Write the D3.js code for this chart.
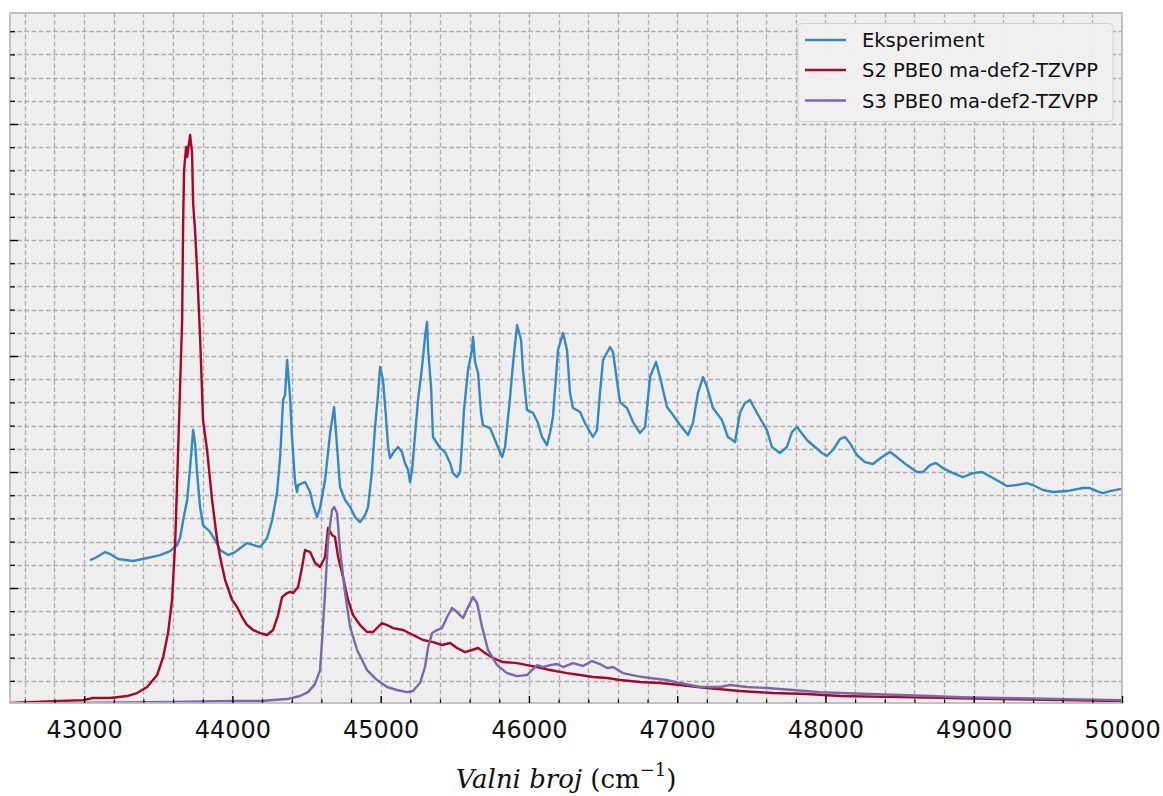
<!DOCTYPE html>
<html><head><meta charset="utf-8">
<script src="https://cdn.jsdelivr.net/npm/d3@7/dist/d3.min.js"></script>
<style>body{margin:0;background:#fff;} svg{display:block;}</style>
</head><body><svg id="c" width="1163" height="796"></svg>
<script>
// ---------- data ----------
const xTickValues = [43000, 44000, 45000, 46000, 47000, 48000, 49000, 50000];
const xTickLabels = ["43000", "44000", "45000", "46000", "47000", "48000", "49000", "50000"];
const seriesNames = ["Eksperiment", "S2 PBE0 ma-def2-TZVPP", "S3 PBE0 ma-def2-TZVPP"];

const expWave = [43040,43074,43142,43175,43229,43330,43425,43512,43580,43627,43647,43668,43695,43715,43728,43735,43748,43762,43782,43802,43850,43883,43917,43971,44018,44099,44187,44234,44268,44301,44322,44342,44355,44369,44389,44403,44423,44436,44443,44490,44524,44544,44571,44591,44625,44659,44686,44706,44726,44760,44794,44827,44861,44895,44915,44942,44962,44982,44996,45016,45036,45050,45063,45084,45117,45144,45164,45185,45198,45212,45225,45252,45279,45299,45313,45320,45340,45353,45401,45434,45468,45488,45515,45535,45549,45562,45589,45616,45623,45637,45657,45677,45690,45738,45771,45819,45839,45873,45893,45920,45947,45960,45987,46028,46061,46088,46122,46142,46162,46196,46230,46257,46277,46297,46345,46378,46432,46459,46479,46500,46547,46567,46614,46661,46702,46749,46783,46817,46857,46884,46931,46972,47019,47073,47106,47140,47174,47201,47241,47302,47342,47390,47423,47457,47491,47538,47605,47639,47693,47740,47774,47808,47875,47929,47976,48010,48050,48098,48131,48165,48212,48266,48320,48381,48435,48482,48549,48617,48657,48705,48745,48792,48860,48927,48995,49055,49130,49224,49291,49358,49399,49467,49534,49628,49736,49783,49831,49871,49918,49986,50000];
const expInt = [1.241,1.259,1.310,1.293,1.250,1.233,1.259,1.284,1.319,1.371,1.431,1.586,1.759,2.043,2.250,2.362,2.250,1.991,1.698,1.543,1.483,1.414,1.328,1.284,1.310,1.388,1.353,1.431,1.586,1.819,2.129,2.621,2.664,2.966,2.647,2.276,1.914,1.828,1.888,1.914,1.828,1.716,1.612,1.690,1.931,2.336,2.560,2.216,1.871,1.759,1.698,1.612,1.569,1.629,1.698,2.017,2.388,2.664,2.905,2.793,2.474,2.216,2.121,2.164,2.216,2.172,2.078,2.017,1.914,2.017,2.216,2.621,2.905,3.164,3.293,3.052,2.733,2.302,2.207,2.172,2.078,1.991,1.957,2.000,2.250,2.534,2.879,3.052,3.164,2.948,2.853,2.509,2.405,2.379,2.276,2.129,2.216,2.647,2.940,3.267,3.138,2.879,2.534,2.509,2.422,2.302,2.233,2.336,2.474,3.052,3.198,3.052,2.681,2.552,2.517,2.422,2.302,2.362,2.681,2.966,3.078,3.034,2.603,2.552,2.431,2.336,2.388,2.819,2.948,2.819,2.560,2.491,2.405,2.319,2.422,2.681,2.819,2.733,2.552,2.448,2.302,2.259,2.509,2.595,2.621,2.509,2.362,2.216,2.164,2.216,2.345,2.388,2.276,2.216,2.164,2.138,2.190,2.284,2.302,2.250,2.147,2.086,2.069,2.129,2.172,2.129,2.060,2.000,2.000,2.060,2.078,2.034,1.991,1.957,1.991,2.000,1.948,1.879,1.888,1.905,1.888,1.845,1.828,1.836,1.862,1.862,1.836,1.819,1.836,1.853,1.853];

const s2Wave = [42500,42838,42993,43061,43175,43290,43357,43425,43492,43533,43566,43593,43614,43627,43641,43661,43668,43674,43688,43695,43701,43715,43728,43735,43748,43762,43782,43802,43829,43863,43897,43917,43951,43998,44032,44065,44099,44140,44187,44234,44274,44308,44335,44369,44389,44410,44443,44470,44490,44524,44558,44591,44625,44645,44672,44692,44713,44746,44780,44814,44861,44908,44949,44982,45009,45043,45084,45151,45218,45286,45353,45414,45468,45515,45569,45616,45657,45704,45758,45825,45920,45987,46055,46142,46257,46345,46432,46527,46614,46749,46884,47019,47201,47423,47646,47875,48098,48502,49177,50000];
const s2Int = [0.010,0.026,0.034,0.052,0.052,0.069,0.095,0.147,0.250,0.405,0.612,0.897,1.388,1.905,2.474,3.310,4.172,4.603,4.802,4.716,4.776,4.905,4.750,4.319,4.086,3.741,3.164,2.448,2.190,1.759,1.414,1.267,1.069,0.897,0.836,0.750,0.681,0.638,0.612,0.595,0.638,0.767,0.922,0.957,0.966,0.957,1.009,1.181,1.328,1.310,1.216,1.181,1.267,1.517,1.457,1.440,1.267,1.095,0.897,0.767,0.681,0.621,0.621,0.664,0.698,0.681,0.655,0.638,0.595,0.552,0.534,0.509,0.526,0.483,0.448,0.466,0.483,0.440,0.397,0.362,0.353,0.336,0.319,0.293,0.267,0.250,0.233,0.224,0.207,0.190,0.181,0.164,0.138,0.112,0.095,0.086,0.069,0.060,0.043,0.026];

const s3Wave = [42500,43601,44005,44187,44369,44456,44510,44557,44591,44605,44625,44645,44672,44686,44706,44726,44760,44794,44841,44908,44976,45043,45110,45178,45218,45265,45299,45320,45347,45380,45414,45448,45481,45515,45556,45589,45623,45650,45684,45724,45785,45852,45920,45987,46021,46055,46095,46142,46189,46230,46297,46365,46425,46479,46527,46567,46634,46729,46817,46931,47019,47154,47289,47356,47471,47605,47780,47962,48098,48502,48705,48907,49177,50000];
const s3Int = [0.005,0.017,0.026,0.026,0.043,0.069,0.103,0.172,0.293,0.552,0.957,1.414,1.672,1.698,1.647,1.328,0.957,0.664,0.466,0.293,0.207,0.147,0.121,0.103,0.112,0.181,0.319,0.491,0.612,0.638,0.655,0.750,0.828,0.793,0.741,0.836,0.922,0.871,0.664,0.466,0.336,0.267,0.241,0.250,0.293,0.336,0.319,0.336,0.345,0.319,0.353,0.328,0.371,0.345,0.310,0.319,0.267,0.241,0.224,0.207,0.181,0.147,0.147,0.164,0.147,0.138,0.121,0.103,0.095,0.078,0.069,0.060,0.052,0.034];

const colors = ["#348ABD", "#A60628", "#7A68A6"];

// ---------- layout ----------
const L = 10, R = 1122, T = 13, B = 703;
const svg = d3.select("#c");
const x = d3.scaleLinear().domain([42500, 50000]).range([L, R]);
const y = d3.scaleLinear().domain([0.009, 5.957]).range([B, T]);

svg.append("rect").attr("x", L).attr("y", T).attr("width", R - L).attr("height", B - T).attr("fill", "#eeeeee");

// grid
const xGrid = d3.range(42600, 50000, 200);
const yGrid = d3.range(1, 30).map(i => i * 0.2);
const g = svg.append("g").attr("stroke", "#aaaaaa").attr("stroke-width", 1.3).attr("stroke-dasharray", "4.6,2.6");
g.selectAll("line.v").data(xGrid).join("line").attr("class", "v")
  .attr("x1", d => Math.round(x(d)) + 0.5).attr("x2", d => Math.round(x(d)) + 0.5).attr("y1", T).attr("y2", B);
g.selectAll("line.h").data(yGrid).join("line").attr("class", "h")
  .attr("y1", d => Math.round(y(d)) + 0.5).attr("y2", d => Math.round(y(d)) + 0.5).attr("x1", L).attr("x2", R);

// clip
svg.append("clipPath").attr("id", "clip").append("rect").attr("x", L).attr("y", T).attr("width", R - L).attr("height", B - T);

const line = d3.line().x(d => x(d[0])).y(d => y(d[1]));
const series = [
  d3.zip(expWave, expInt),
  d3.zip(s2Wave, s2Int),
  d3.zip(s3Wave, s3Int)
];
const plot = svg.append("g").attr("clip-path", "url(#clip)");
series.forEach((s, i) => {
  plot.append("path").datum(s).attr("d", line).attr("fill", "none")
    .attr("stroke", colors[i]).attr("stroke-width", 2.4).attr("stroke-linejoin", "round");
});

// frame
svg.append("rect").attr("x", L).attr("y", T).attr("width", R - L).attr("height", B - T)
  .attr("fill", "none").attr("stroke", "#bcbcbc").attr("stroke-width", 1.8);

// x axis (ticks inward)
const xMinor = d3.range(42600, 50000, 200).filter(v => v % 1000 !== 0);
const xAxis = d3.axisBottom(x).tickValues(xTickValues).tickFormat((d, i) => xTickLabels[i]).tickSizeInner(-7).tickSizeOuter(0).tickPadding(18);
const xa = svg.append("g").attr("transform", `translate(0,${B})`).call(xAxis);
xa.select(".domain").remove();
xa.selectAll(".tick line").attr("stroke", "#000").attr("stroke-width", 1.4);
xa.selectAll(".tick text").attr("font-family", "DejaVu Sans").attr("font-size", 24).attr("fill", "#111");
const xm = svg.append("g").attr("transform", `translate(0,${B})`).call(d3.axisBottom(x).tickValues(xMinor).tickSizeInner(-3.5).tickSizeOuter(0).tickFormat(""));
xm.select(".domain").remove();
xm.selectAll(".tick line").attr("stroke", "#000").attr("stroke-width", 1.2);

// y axis (no labels, ticks inward)
const yMajor = [1, 2, 3, 4, 5];
const yMinor = yGrid.filter(v => Math.abs(v - Math.round(v)) > 1e-6);
const ya = svg.append("g").attr("transform", `translate(${L},0)`).call(d3.axisLeft(y).tickValues(yMajor).tickSizeInner(-8).tickSizeOuter(0).tickFormat(""));
ya.select(".domain").remove();
ya.selectAll(".tick line").attr("stroke", "#000").attr("stroke-width", 1.4);
const ym = svg.append("g").attr("transform", `translate(${L},0)`).call(d3.axisLeft(y).tickValues(yMinor).tickSizeInner(-5).tickSizeOuter(0).tickFormat(""));
ym.select(".domain").remove();
ym.selectAll(".tick line").attr("stroke", "#000").attr("stroke-width", 1.2);

// x label
const xl = svg.append("text").attr("x", 566).attr("y", 788).attr("text-anchor", "middle")
  .attr("font-family", "DejaVu Serif, serif").attr("font-size", 26).attr("fill", "#111");
xl.append("tspan").attr("font-style", "italic").text("Valni broj");
xl.append("tspan").text(" (cm");
xl.append("tspan").attr("font-size", 18).attr("dy", -12).text("\u22121");
xl.append("tspan").attr("dy", 12).text(")");

// legend
const lg = svg.append("g");
lg.append("rect").attr("x", 798).attr("y", 23.5).attr("width", 315).attr("height", 98).attr("rx", 4)
  .attr("fill", "#efefef").attr("fill-opacity", 0.95).attr("stroke", "#d0d0d0").attr("stroke-width", 1);
const rowY = [40, 70, 100.5];
seriesNames.forEach((n, i) => {
  lg.append("line").attr("x1", 805).attr("x2", 846).attr("y1", rowY[i]).attr("y2", rowY[i])
    .attr("stroke", colors[i]).attr("stroke-width", 2.4);
  lg.append("text").attr("x", 862).attr("y", rowY[i] + 7).attr("font-family", "DejaVu Sans")
    .attr("font-size", 19.5).attr("fill", "#111").text(n);
});
</script></body></html>
